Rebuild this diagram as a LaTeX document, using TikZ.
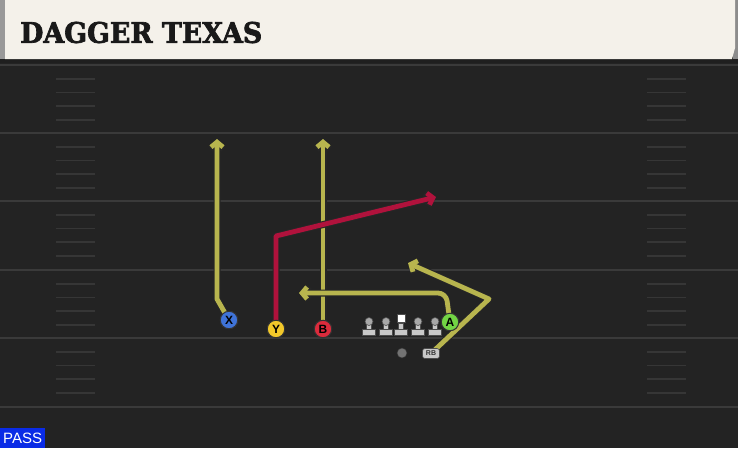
\documentclass[tikz,border=0pt]{standalone}
\usepackage{fontspec}
\usepackage{graphicx}
\setmainfont{Liberation Sans}
\newfontfamily\titlefont{DejaVu Serif Bold}[FakeBold=2.5]
\usetikzlibrary{arrows.meta}
\definecolor{fieldbg}{HTML}{232323}
\definecolor{yardc}{HTML}{3A3A3A}
\definecolor{hashc}{HTML}{363636}
\definecolor{cream}{HTML}{F4F1EA}
\definecolor{routey}{HTML}{B8B54E}
\definecolor{router}{HTML}{B0123C}
\definecolor{pblue}{HTML}{3F73D8}
\definecolor{pyellow}{HTML}{F2C82A}
\definecolor{pred}{HTML}{DC2B3C}
\definecolor{pgreen}{HTML}{72D444}
\definecolor{passblue}{HTML}{0A2BE6}
\definecolor{linec}{HTML}{C8C8C8}
\definecolor{headc}{HTML}{A8A8A8}
\pgfdeclarelayer{field}
\pgfdeclarelayer{routes}
\pgfsetlayers{field,routes,main}
\tikzset{
  routeout/.style={line width=7pt, draw=black!85, line join=round,
    -{Straight Barb[length=5.5pt,width=13pt]}},
  routein/.style={line width=4.8pt, line join=round,
    -{Straight Barb[length=5pt,width=12pt]}},
  player/.style={circle, minimum size=17.5pt, inner sep=0pt, draw=black!80,
    line width=1pt, font=\bfseries\fontsize{12}{12}\selectfont},
  yard/.style={draw=yardc, line width=2pt},
  hashmark/.style={draw=hashc, line width=1.6pt},
  lineman/.pic={
    \fill[linec, draw=black!70, line width=0.6pt] (-6.5,0) rectangle (6.5,-6);
    \fill[linec, draw=black!70, line width=0.6pt] (-2.5,-6) rectangle (2.5,-12);
    \fill[headc, draw=black!70, line width=0.6pt] (0,-13.5) circle (4);
  },
  centerman/.pic={
    \fill[linec, draw=black!70, line width=0.6pt] (-6.5,0) rectangle (6.5,-6);
    \fill[linec, draw=black!70, line width=0.6pt] (-2.5,-6) rectangle (2.5,-12);
    \fill[white, draw=black!70, line width=0.6pt] (-4,-13) rectangle (4,-21);
  }
}
\newcommand\drawroute[2]{\draw[routeout] #2; \draw[routein,draw=#1,color=#1] #2;}
\begin{document}
\begin{tikzpicture}[x=1pt,y=-1pt]
\useasboundingbox (0,0) rectangle (738,448);
\begin{pgfonlayer}{field}
  \fill[fieldbg] (0,0) rectangle (738,448);
  \fill[black!88] (0,59) rectangle (738,63);
  \fill[black!45] (733,0) rectangle (738,59);
  \fill[cream] (5,0) -- (735,0) -- (735,48) -- (732,59) -- (5,59) -- cycle;
  \fill[black!40] (0,0) rectangle (5,59);
  \foreach \y in {65,133,201,270,338,407} {\draw[yard] (0,\y) -- (738,\y);}
  \foreach \y in {65,133,201,270,338} {
    \foreach \d in {14,27.5,41,55} {
      \draw[hashmark] (56,\y+\d) -- (95,\y+\d);
      \draw[hashmark] (647,\y+\d) -- (686,\y+\d);
    }
  }
\end{pgfonlayer}
\node[anchor=west, inner sep=0pt, text=black!90] (title) at (20,32.5)
  {\resizebox{242pt}{21pt}{\titlefont DAGGER TEXAS}};
\node[fill=passblue, text=white, anchor=north west, minimum width=45pt,
  minimum height=20pt, inner sep=0pt, font=\fontsize{15}{15}\selectfont] (pass) at (0,428) {PASS};
% players
\node[player, fill=pblue] (X) at (229,320) {X};
\node[player, fill=pyellow] (Y) at (276,329) {Y};
\node[player, fill=pred] (B) at (323,329) {B};
\node[player, fill=pgreen] (A) at (450,322) {A};
\pic at (369,335) {lineman};
\pic at (386,335) {lineman};
\pic at (401,335) {centerman};
\pic at (418,335) {lineman};
\pic at (435,335) {lineman};
\node[circle, fill=black!55, draw=black!80, line width=0.5pt, minimum size=10pt, inner sep=0pt] (QB) at (402,353) {};
\node[rounded corners=2.5pt, fill=linec, draw=black!70, line width=0.6pt, minimum width=17pt,
  minimum height=10pt, inner sep=0pt, text=black!80, font=\bfseries\fontsize{7}{7}\selectfont] (RB) at (431,353.5) {RB};
% route waypoints
\coordinate (xb) at (217,299);
\coordinate (xe) at (217,139);
\coordinate (be) at (323,139);
\coordinate (yb) at (276,236);
\coordinate (ye) at (436,197);
\coordinate (ab) at (446,293);
\coordinate (ae) at (299,293);
\coordinate (rbm) at (489,299);
\coordinate (rbe) at (408,263);
\begin{pgfonlayer}{routes}
  \drawroute{routey}{(X.center) -- (xb) -- (xe)}
  \drawroute{routey}{(B.center) -- (be)}
  \drawroute{router}{(Y.center) -- (yb) -- (ye)}
  \drawroute{routey}{[rounded corners=8pt] (A.center) -- (ab) -- (ae)}
  \drawroute{routey}{(RB.center) -- (rbm) -- (rbe)}
\end{pgfonlayer}
\end{tikzpicture}
\end{document}
